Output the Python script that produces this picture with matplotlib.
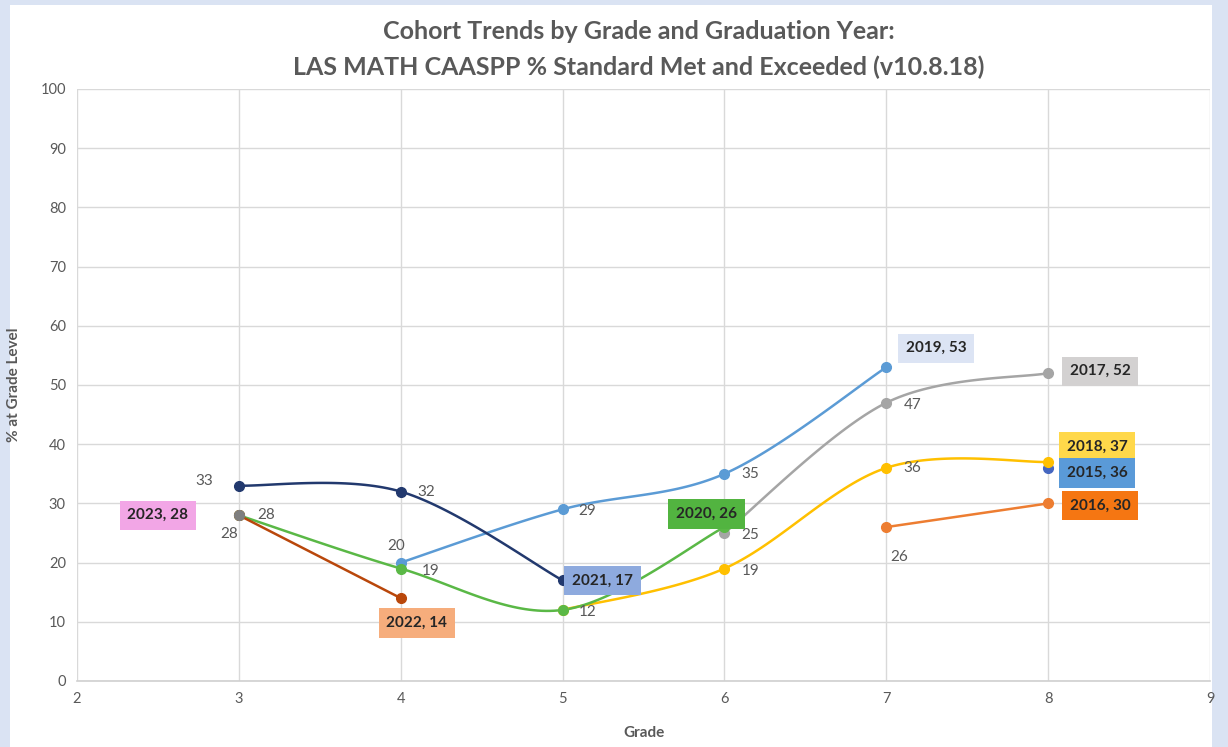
"""Cohort trends chart: LAS MATH CAASPP % standard met and exceeded."""

import matplotlib
matplotlib.use("Agg")
import matplotlib.pyplot as plt
import numpy as np
from matplotlib.patches import Rectangle

plt.rcParams["font.family"] = ["Lato", "DejaVu Sans"]

# cohorts by graduation year: grades and % at grade level
years = ["2023", "2022", "2021", "2020", "2019", "2018", "2017", "2016", "2015"]
grades = {
    "2023": [3],
    "2022": [3, 4],
    "2021": [3, 4, 5],
    "2020": [3, 4, 5, 6],
    "2019": [4, 5, 6, 7],
    "2018": [5, 6, 7, 8],
    "2017": [6, 7, 8],
    "2016": [7, 8],
    "2015": [8],
}
scores = {
    "2023": [28],
    "2022": [28, 14],
    "2021": [33, 32, 17],
    "2020": [28, 19, 12, 26],
    "2019": [20, 29, 35, 53],
    "2018": [12, 19, 36, 37],
    "2017": [25, 47, 52],
    "2016": [26, 30],
    "2015": [36],
}
line_colors = {
    "2023": "#7f7f7f", "2022": "#b9470b", "2021": "#22396e", "2020": "#5ab846",
    "2019": "#5b9bd5", "2018": "#ffc000", "2017": "#a5a5a5", "2016": "#ed7d31",
    "2015": "#4566c0",
}
box_colors = {
    "2023": "#f2a6e6", "2022": "#f6ad7c", "2021": "#8eaade", "2020": "#52b440",
    "2019": "#dce4f4", "2018": "#ffd84a", "2017": "#d3d1d1", "2016": "#f57612",
    "2015": "#5a9ad8",
}
# end-of-series label placement (pixel offsets from the last point)
box_offsets = {
    "2023": (-81, 0), "2022": (16, -25), "2021": (40, 0), "2020": (-18, 13),
    "2019": (50, 19), "2017": (52, 2), "2018": (49, 15), "2015": (49, -5),
    "2016": (52, -2),
}
# plain value labels: (year, point index, dx, dy in pixels)
value_labels = [
    ("2021", 0, -35, 5), ("2022", 0, 27, 0), ("2020", 0, -10, -19),
    ("2021", 1, 26, 0), ("2019", 0, -5, 17), ("2020", 1, 30, -2),
    ("2019", 1, 25, -2), ("2020", 2, 25, -2), ("2019", 2, 26, 0),
    ("2017", 0, 26, -2), ("2018", 1, 26, -2), ("2017", 1, 26, -2),
    ("2018", 2, 26, 0), ("2016", 0, 13, -30),
]


def smooth(x, y, n=40):
    """Excel-like smoothed line through points (Catmull-Rom Bezier)."""
    x = np.asarray(x, float)
    y = np.asarray(y, float)
    if len(x) < 3:
        return x, y
    px = np.concatenate([[x[0]], x, [x[-1]]])
    py = np.concatenate([[y[0]], y, [y[-1]]])
    xs, ys = [], []
    t = np.linspace(0, 1, n)
    for i in range(1, len(px) - 2):
        p0 = np.array([px[i], py[i]])
        p3 = np.array([px[i + 1], py[i + 1]])
        p1 = p0 + (np.array([px[i + 1], py[i + 1]]) - np.array([px[i - 1], py[i - 1]])) / 6
        p2 = p3 - (np.array([px[i + 2], py[i + 2]]) - np.array([px[i], py[i]])) / 6
        b = ((1 - t) ** 3)[:, None] * p0 + (3 * (1 - t) ** 2 * t)[:, None] * p1 \
            + (3 * (1 - t) * t ** 2)[:, None] * p2 + (t ** 3)[:, None] * p3
        xs.extend(b[:, 0])
        ys.extend(b[:, 1])
    return np.array(xs), np.array(ys)


fig = plt.figure(figsize=(12.28, 7.47), dpi=100)
fig.patch.set_facecolor("#dae3f3")
fig.patches.append(Rectangle((10 / 1228, 0), 1202 / 1228, 742 / 747,
                             transform=fig.transFigure, facecolor="white",
                             edgecolor="none", zorder=-10))
ax = fig.add_axes([77 / 1228, 1 - 681 / 747, 1133 / 1228, 592 / 747])
ax.set_zorder(1)
ax.set_facecolor("white")

draw_order = ["2015", "2016", "2017", "2018", "2019", "2020", "2021", "2022", "2023"]
for yr in draw_order:
    gx, gy = grades[yr], scores[yr]
    sx, sy = smooth(gx, gy)
    ax.plot(sx, sy, color=line_colors[yr], lw=1.8, zorder=3)
    ax.plot(gx, gy, "o", color=line_colors[yr], ms=7, zorder=4)

for yr in years:
    dx, dy = box_offsets[yr]
    ax.annotate(f"{yr}, {scores[yr][-1]}", (grades[yr][-1], scores[yr][-1]),
                xytext=(dx, dy), textcoords="offset pixels", ha="center",
                va="center", fontsize=11, fontweight="bold", color="#262626",
                bbox=dict(boxstyle="square,pad=0.5", fc=box_colors[yr],
                          ec="none"), zorder=6)

for yr, i, dx, dy in value_labels:
    ax.annotate(str(scores[yr][i]), (grades[yr][i], scores[yr][i]),
                xytext=(dx, dy), textcoords="offset pixels", ha="center",
                va="center", fontsize=11, color="#595959", zorder=5)

ax.set_xlim(2, 9)
ax.set_ylim(0, 100)
ax.set_xticks(range(2, 10))
ax.set_yticks(range(0, 101, 10))
ax.grid(True, color="#d9d9d9", lw=1)
ax.set_axisbelow(True)
for side in ["top", "right", "left"]:
    ax.spines[side].set_visible(False)
ax.spines["bottom"].set_color("#d0d0d0")
ax.spines["bottom"].set_linewidth(1.2)
ax.tick_params(colors="#595959", labelsize=10.5, length=0, pad=8)
ax.set_xlabel("Grade", fontsize=11, fontweight="bold", color="#595959", labelpad=14)
ax.set_ylabel("% at Grade Level", fontsize=11, fontweight="bold", color="#595959",
              labelpad=14)

fig.text(0.52, 0.958, "Cohort Trends by Grade and Graduation Year:", ha="center",
         va="center", fontsize=18, fontweight="bold", color="#595959")
fig.text(0.52, 0.910, "LAS MATH CAASPP % Standard Met and Exceeded (v10.8.18)",
         ha="center", va="center", fontsize=18, fontweight="bold", color="#595959")

fig.savefig("out.png", dpi=100, facecolor=fig.get_facecolor())
